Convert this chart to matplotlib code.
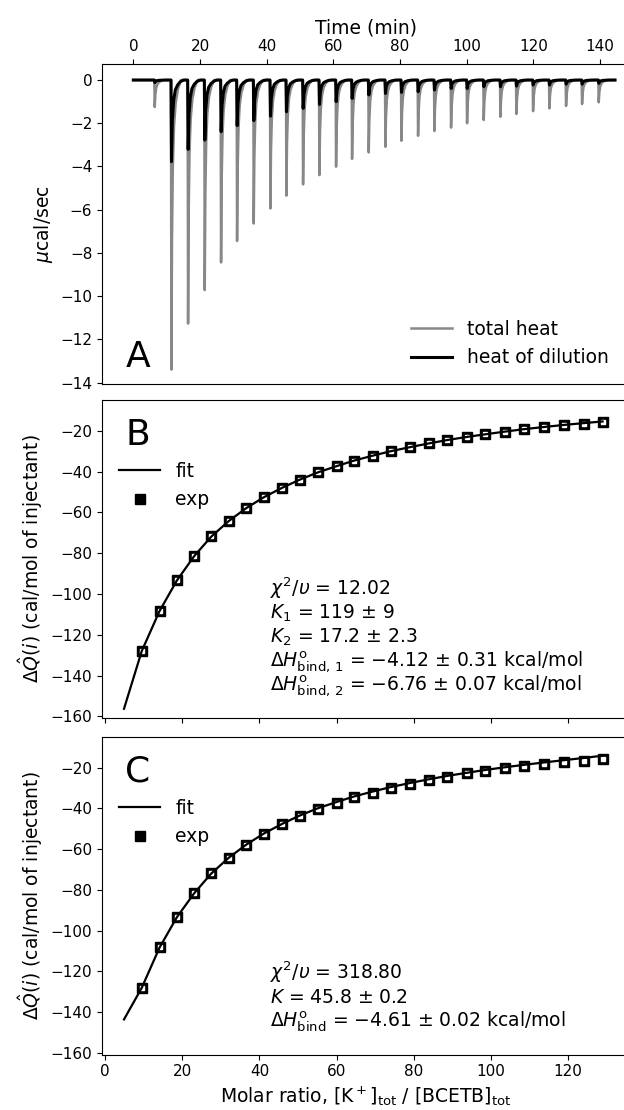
import numpy as np
import matplotlib.pyplot as plt
from matplotlib.lines import Line2D

# panel A: injection times (min) and peak minima (ucal/sec)
inj_time = [6.3, 11.3, 16.3, 21.3, 26.2, 31.0, 36.0, 41.0, 45.8, 50.8, 55.7, 60.7, 65.5,
            70.5, 75.5, 80.3, 85.3, 90.2, 95.2, 100.0, 105.0, 110.0, 114.8, 119.8, 124.7,
            129.7, 134.5, 139.5]
total_peak = [-1.25, -13.4, -11.27, -9.72, -8.44, -7.45, -6.64, -5.94, -5.35, -4.83, -4.40,
              -4.01, -3.65, -3.35, -3.09, -2.81, -2.58, -2.36, -2.20, -2.00, -1.85, -1.70,
              -1.57, -1.44, -1.31, -1.20, -1.11, -1.03]
dilution_peak = [-0.12, -3.78, -3.21, -2.78, -2.39, -2.11, -1.88, -1.67, -1.47, -1.31, -1.13,
                 -1.00, -0.85, -0.69, -0.62, -0.57, -0.54, -0.46, -0.39, -0.39, -0.31, -0.31,
                 -0.28, -0.23, -0.23, -0.19, -0.19, -0.15]
t_start, t_end = 0.0, 144.5

# panels B and C: integrated heats
molar_ratio = [9.5, 14.1, 18.6, 23.1, 27.5, 32.0, 36.5, 41.1, 45.9, 50.5, 55.1, 60.0, 64.5,
               69.3, 74.0, 79.0, 83.8, 88.7, 93.7, 98.5, 103.5, 108.5, 113.8, 118.9, 124.1, 128.9]
q_exp = [-128.1, -108.2, -93.3, -81.3, -71.6, -64.2, -58.0, -52.5, -47.8, -43.9, -40.3, -37.3,
         -34.7, -32.3, -30.1, -28.0, -26.1, -24.5, -22.9, -21.6, -20.4, -19.2, -18.1, -17.3,
         -16.6, -15.6]
fit_x = [4.9] + molar_ratio
fit_two_site = [-156.3, -128.0, -108.4, -93.4, -81.4, -71.9, -64.3, -58.0, -52.6, -47.9, -43.9,
                -40.4, -37.3, -34.6, -32.2, -30.0, -28.0, -26.2, -24.5, -23.0, -21.7, -20.4,
                -19.2, -18.1, -17.1, -16.2, -15.4]
fit_one_site = [-143.5, -128.0, -108.3, -93.4, -81.6, -72.0, -64.3, -57.9, -52.4, -47.6, -43.5,
                -40.0, -36.9, -34.2, -31.8, -29.6, -27.6, -25.8, -24.1, -22.6, -21.2, -19.9,
                -18.7, -17.5, -16.4, -15.3, -14.2]

stats_b = [r'$\chi^2/\upsilon$ = 12.02',
           r'$K_1$ = 119 ± 9',
           r'$K_2$ = 17.2 ± 2.3',
           r'$\Delta H^{\rm o}_{\rm bind,\,1}$ = ' + '\u22124.12 ± 0.31 kcal/mol',
           r'$\Delta H^{\rm o}_{\rm bind,\,2}$ = ' + '\u22126.76 ± 0.07 kcal/mol']
stats_c = [r'$\chi^2/\upsilon$ = 318.80',
           r'$K$ = 45.8 ± 0.2',
           r'$\Delta H^{\rm o}_{\rm bind}$ = ' + '\u22124.61 ± 0.02 kcal/mol']

# peak shape templates (time after injection, fraction of peak depth)
spike_dt = [0, 0.12, 0.3, 0.55, 0.9, 1.4, 2.1, 3.0]
spike_fr = [0, 1, 0.55, 0.3, 0.16, 0.08, 0.03, 0]
hook_dt = [0, 0.15, 0.4, 0.8, 1.3, 2.0, 2.8, 3.8]
hook_fr = [0, 1, 0.5, 0.25, 0.12, 0.06, 0.02, 0]


def trace(depths, dts, frs):
    tx, ty = [t_start], [0.0]
    for t0, d in zip(inj_time, depths):
        for dt, fr in zip(dts, frs):
            tx.append(t0 + dt)
            ty.append(fr * d)
    tx.append(t_end)
    ty.append(0.0)
    return tx, ty


LBL = 13.5
TCK = 11

fig = plt.figure(figsize=(6.24, 11.1), dpi=100)
W = 528 / 624  # right spine falls just outside the picture, as in the original crop
axA = fig.add_axes([102 / 624, 0.654, W, 0.2883])
axB = fig.add_axes([102 / 624, 0.3534, W, 0.2862])
axC = fig.add_axes([102 / 624, 0.050, W, 0.2863], sharex=axB)

# A
gx, gy = trace(total_peak, spike_dt, spike_fr)
bx, by = trace(dilution_peak, hook_dt, hook_fr)
axA.plot(gx, gy, color='#888888', lw=1.8, label='total heat')
axA.plot(bx, by, color='black', lw=2.2, label='heat of dilution')
axA.set_xlim(-9.4, 149.0)
axA.set_ylim(-14.07, 0.74)
axA.set_yticks(np.arange(-14, 1, 2))
axA.set_xticks(np.arange(0, 141, 20))
axA.xaxis.tick_top()
axA.xaxis.set_label_position('top')
axA.set_xlabel('Time (min)', fontsize=LBL)
axA.set_ylabel(r'$\mu$cal/sec', fontsize=LBL)
axA.tick_params(labelsize=TCK)
axA.legend(loc='lower right', bbox_to_anchor=(0.992, 0), frameon=False, fontsize=LBL,
           handlelength=2.2)
axA.text(0.044, 0.053, 'A', transform=axA.transAxes, fontsize=26, va='baseline')

# B and C
for ax, fit, stats, letter in [(axB, fit_two_site, stats_b, 'B'), (axC, fit_one_site, stats_c, 'C')]:
    ax.plot(molar_ratio, q_exp, 's', color='black', ms=7.5, zorder=2)
    ax.plot(molar_ratio, q_exp, 's', color='white', ms=3.0, zorder=3)
    ax.plot(fit_x, fit, color='black', lw=1.6, zorder=4)
    ax.set_ylim(-160.7, -4.9)
    ax.set_yticks(np.arange(-160, -19, 20))
    ax.set_ylabel(r'$\Delta\hat{Q}(i)$ (cal/mol of injectant)', fontsize=LBL)
    ax.tick_params(labelsize=TCK)
    handles = [Line2D([], [], color='black', lw=1.6),
               Line2D([], [], ls='none', marker='s', color='black', ms=7.5)]
    ax.legend(handles, ['fit', 'exp'], loc='upper left', bbox_to_anchor=(0, 0.858),
              frameon=False, fontsize=LBL, handlelength=2.2)
    ax.text(0.044, 0.858, letter, transform=ax.transAxes, fontsize=26, va='baseline')
    n = len(stats)
    for k, line in enumerate(stats):
        ax.text(0.318, 0.087 + 0.075 * (n - 1 - k), line, transform=ax.transAxes,
                fontsize=LBL, va='baseline')

axB.set_xlim(-0.8, 136.0)
axB.set_xticks(np.arange(0, 121, 20))
axB.tick_params(labelbottom=False)
axC.set_xlabel(r'Molar ratio, [K$^+$]$_{\rm tot}$ / [BCETB]$_{\rm tot}$', fontsize=LBL)

fig.savefig('out.png', dpi=100)
